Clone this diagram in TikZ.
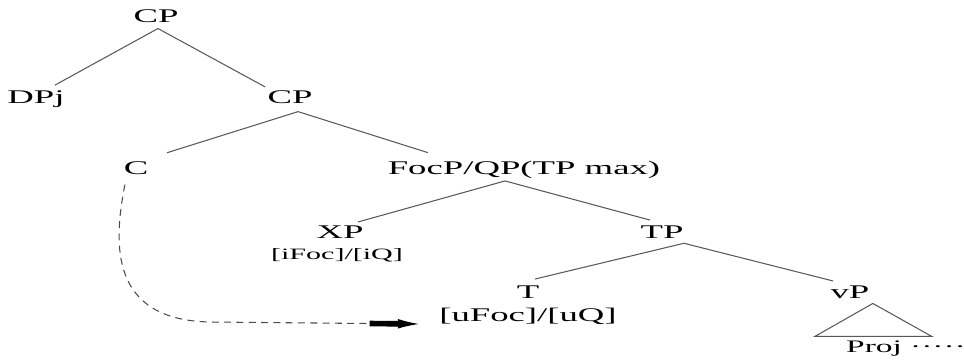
\documentclass[tikz,border=0pt]{standalone}
\usepackage{fontspec}
\setmainfont[FakeStretch=1.9]{Liberation Serif}
\usepackage{tikz}
\usetikzlibrary{arrows.meta}

\begin{document}
\begin{tikzpicture}[x=0.02cm,y=-0.02cm,
        lbl/.style={inner sep=0pt,anchor=base,font=\fontsize{11}{13}\selectfont},
        feat/.style={inner sep=0pt,anchor=base,font=\fontsize{9}{11}\selectfont},
        branch/.style={draw=black!65,line width=0.6pt},
        move/.style={draw=black!70,line width=0.6pt,dash pattern=on 4pt off 3pt}]
        \useasboundingbox (0,0) rectangle (964,359);
        % labels of the tree
        \node[lbl] (cp1) at (156,22) {CP};
        \node[lbl] (dpj) at (36,103) {DPj};
        \node[lbl] (cp2) at (290,103) {CP};
        \node[lbl] (c) at (136,174) {C};
        \node[lbl] (focp) at (524,174) {FocP/QP(TP max)};
        \node[lbl] (xp) at (340,238) {XP};
        \node[feat] (xpf) at (337,259) {[iFoc]/[iQ]};
        \node[lbl] (tp) at (662,238) {TP};
        \node[lbl] (t) at (528,298) {T};
        \node[lbl] (tf) at (528,321) {[uFoc]/[uQ]};
        \node[lbl] (vp) at (850,298) {vP};
        \node[feat,font=\fontsize{10}{12}\selectfont] (proj) at (906,352) {Proj ·····};
        % branches
        \draw[branch] ([xshift=1.1pt,yshift=-3.4pt]cp1.south) -- ([xshift=10.8pt,yshift=2.7pt]dpj.north);
        \draw[branch] ([xshift=1.1pt,yshift=-3.4pt]cp1.south) -- ([xshift=-14.2pt,yshift=1.7pt]cp2.north);
        \draw[branch] ([xshift=4.6pt,yshift=-4.6pt]cp2.south) -- ([xshift=17.6pt,yshift=4.6pt]c.north);
        \draw[branch] ([xshift=4.6pt,yshift=-4.6pt]cp2.south) -- ([xshift=-54.6pt,yshift=4.3pt]focp.north);
        \draw[branch] ([xshift=-10.8pt,yshift=-1.4pt]focp.south) -- ([xshift=10.2pt,yshift=1.7pt]xp.north);
        \draw[branch] ([xshift=-10.8pt,yshift=-1.4pt]focp.south) -- ([xshift=-6.8pt,yshift=2.8pt]tp.north);
        \draw[branch] ([xshift=12.5pt,yshift=-2.8pt]tp.south) -- ([xshift=4pt,yshift=3.4pt]t.north);
        \draw[branch] ([xshift=12.5pt,yshift=-2.8pt]tp.south) -- ([xshift=-9.7pt,yshift=2.3pt]vp.north);
        \draw[branch] ([xshift=13pt,yshift=-2.8pt]vp.south) -- ++(-58,33) -- ++(117,0) -- cycle;
        % movement
        \draw[move,-{Rectangle[black,length=16pt,width=3.2pt]Latex[black,length=12pt,width=5.5pt]}]
            ([xshift=-6.3pt,yshift=-5.7pt]c.south) .. controls (113,245) and (110,320) .. (210,322)
            -- ([xshift=-11.4pt,yshift=-1.7pt]tf.base west);
\end{tikzpicture}
\end{document}
